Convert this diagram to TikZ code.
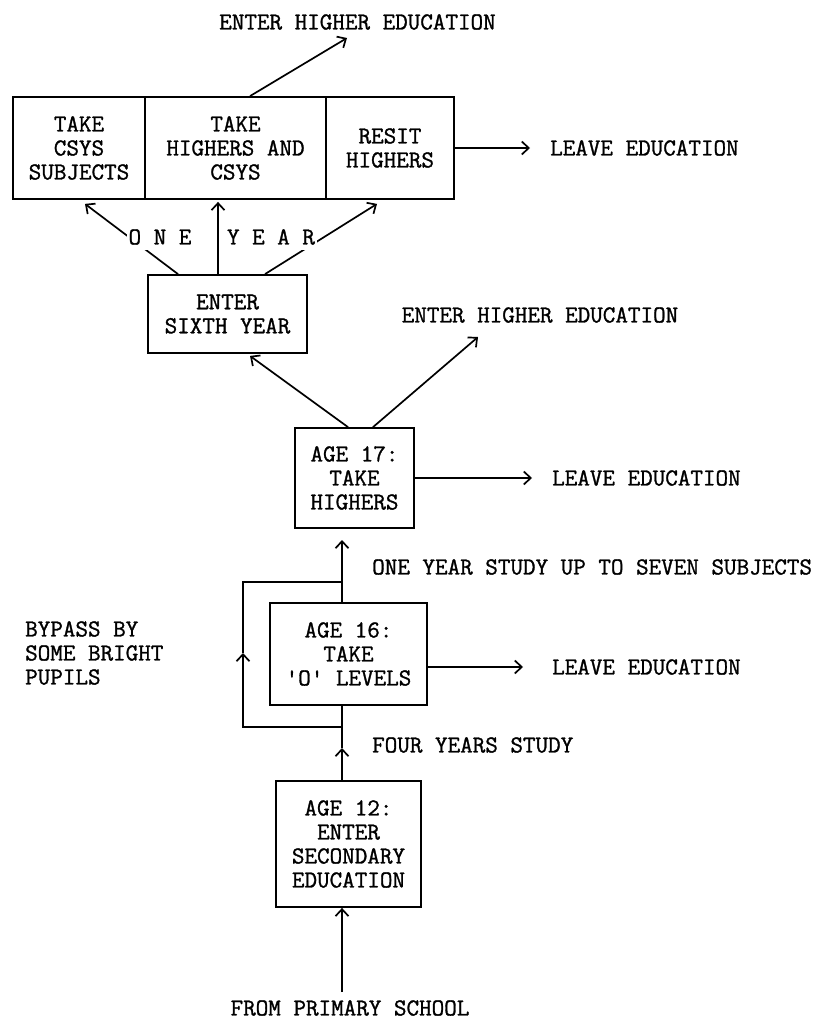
\documentclass[tikz,border=0pt]{standalone}
\usepackage{fontspec}
\newfontfamily\typew[FakeBold=1.2]{Latin Modern Mono}
\usetikzlibrary{arrows.meta}
\begin{document}
\begin{tikzpicture}[x=1pt,y=-1pt,
  every node/.style={font=\typew\fontsize{24.4}{24}\selectfont},
  box/.style={draw, line width=1.8pt, inner sep=0pt, align=center},
  conn/.style={line width=1.7pt},
  arr/.style={conn, -{Straight Barb[length=7pt,width=13pt]}},
  lbl/.style={inner sep=0pt},
  gap/.style={fill=white, inner xsep=2pt, inner ysep=5pt}]
\useasboundingbox (0,0) rectangle (831,1019);

% boxes
\node[box, minimum width=132pt, minimum height=102pt] (csys) at (79,148) {TAKE\\CSYS\\SUBJECTS};
\node[box, minimum width=181pt, minimum height=102pt] (hac) at (235.5,148) {TAKE\\HIGHERS AND\\CSYS};
\node[box, minimum width=128pt, minimum height=102pt] (resit) at (390,148) {RESIT\\HIGHERS};
\node[box, minimum width=159pt, minimum height=78pt] (sixth) at (227.5,314) {ENTER\\SIXTH YEAR};
\node[box, minimum width=119pt, minimum height=100pt] (age17) at (354.5,478) {AGE 17:\\TAKE\\HIGHERS};
\node[box, minimum width=157pt, minimum height=102pt] (age16) at (348.5,654) {AGE 16:\\TAKE\\'O' LEVELS};
\node[box, minimum width=145pt, minimum height=126pt] (age12) at (348.5,844) {AGE 12:\\ENTER\\SECONDARY\\EDUCATION};

% labels
\node[lbl] (he1) at (357.5,22) {ENTER HIGHER EDUCATION};
\node[lbl, anchor=west] (leave1) at (550,148) {LEAVE EDUCATION};
\node[lbl] (he2) at (540,315) {ENTER HIGHER EDUCATION};
\node[lbl, anchor=west] (leave2) at (552,478) {LEAVE EDUCATION};
\node[lbl, anchor=west] (oneyear) at (372,567) {ONE YEAR STUDY UP TO SEVEN SUBJECTS};
\node[lbl, anchor=west] (leave3) at (552,667) {LEAVE EDUCATION};
\node[lbl, anchor=west] (four) at (372,745) {FOUR YEARS STUDY};
\node[lbl, anchor=west, align=left] (bypass) at (25,653) {BYPASS BY\\SOME BRIGHT\\PUPILS};
\node[lbl] (prim) at (350,1008) {FROM PRIMARY SCHOOL};

% free ends
\coordinate (heTopTip) at (347,38);
\coordinate (heMidTip) at (478,337);
\coordinate (vx) at (342,0);
\coordinate (t17) at (342,540);
\coordinate (jT) at (342,582);
\coordinate (jB) at (342,727);
\coordinate (bx) at (243,653);
\coordinate (t16) at (342,748);
\coordinate (p0) at (342,992);

% top
\draw[arr] ([xshift=14.5pt]hac.north) -- (heTopTip);
\draw[arr] (resit.east) -- ([xshift=-20pt]leave1.west);

% sixth year to top boxes
\draw[arr] ([xshift=-49.5pt]sixth.north) -- ([xshift=6pt,yshift=-4pt]csys.south);
\draw[arr] ([xshift=-9.5pt]sixth.north) -- ([xshift=-17.5pt,yshift=-2pt]hac.south);
\draw[arr] ([xshift=37.5pt]sixth.north) -- ([xshift=-13pt,yshift=-4pt]resit.south);
\node[lbl, gap] (one) at (160,237) {O N E};
\node[lbl, gap] (year) at (271,237) {Y E A R};

% age 17
\draw[arr] ([xshift=-6.5pt]age17.north) -- ([xshift=22.5pt,yshift=-2pt]sixth.south);
\draw[arr] ([xshift=18.5pt]age17.north) -- (heMidTip);
\draw[arr] (age17.east) -- ([xshift=-20pt]leave2.west);

% age 16
\draw[arr] (age16.north -| vx) -- (t17);
\draw[arr] ([yshift=-13pt]age16.east) -- ([xshift=-29pt]leave3.west);
\draw[arr] (jB) -| (bx);
\draw[conn] (bx) |- (jT);

% age 12
\draw[arr] (age12.north -| vx) -- (t16);
\draw[conn] (t16) -- (age16.south -| vx);
\draw[arr] (p0) -- (age12.south -| vx);
\end{tikzpicture}
\end{document}
